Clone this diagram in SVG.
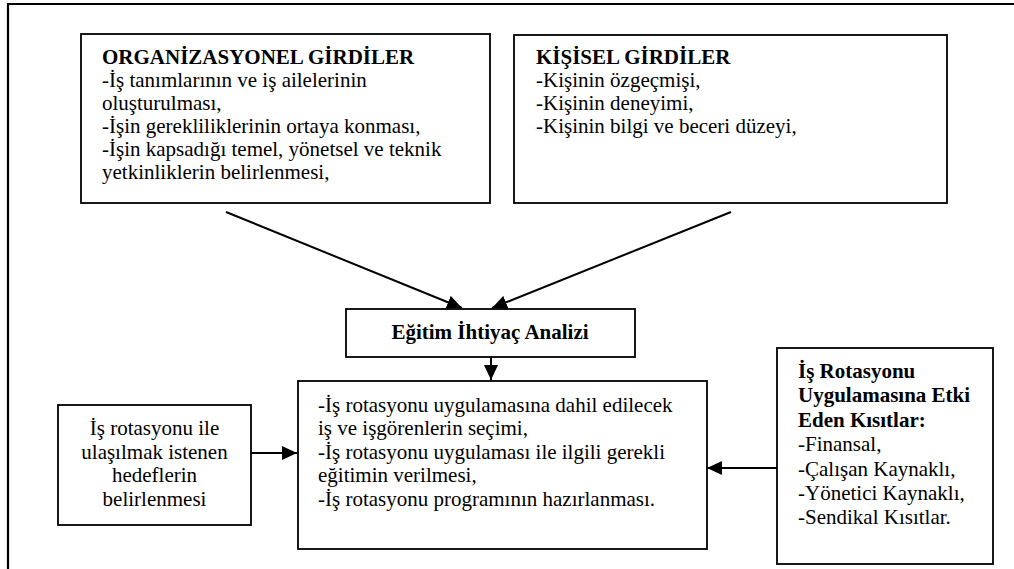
<svg xmlns="http://www.w3.org/2000/svg" width="1014" height="569" viewBox="0 0 1014 569">
  <style>
    .box { fill: #ffffff; stroke: #000000; stroke-width: 1.8; }
    .frame { fill: none; stroke: #000000; stroke-width: 2.2; }
    .edge { fill: none; stroke: #000000; stroke-width: 2; }
    text { font-family: "Liberation Serif", "Times New Roman", serif; font-size: 21px; fill: #000000; }
    .b { font-weight: bold; }
    .c { text-anchor: middle; }
  </style>
  <defs>
    <marker id="arrow" viewBox="0 0 15 14" refX="15" refY="7" markerWidth="15" markerHeight="14" markerUnits="userSpaceOnUse" orient="auto">
      <path d="M0,0 L15,7 L0,14 Z" fill="#000000"/>
    </marker>
  </defs>
  <rect width="1014" height="569" fill="#ffffff"/>

  <!-- outer frame: top and left edges only -->
  <path class="frame" d="M8,569 L8,4 L1014,4"/>

  <g id="connectors">
    <line class="edge" x1="226" y1="212" x2="462" y2="308" marker-end="url(#arrow)"/>
    <line class="edge" x1="731" y1="212" x2="492" y2="308" marker-end="url(#arrow)"/>
    <line class="edge" x1="491" y1="357" x2="491" y2="380" marker-end="url(#arrow)"/>
    <line class="edge" x1="251" y1="453" x2="297" y2="453" marker-end="url(#arrow)"/>
    <line class="edge" x1="777" y1="468" x2="707" y2="468" marker-end="url(#arrow)"/>
  </g>

  <g id="org-inputs">
    <rect class="box" x="81" y="34" width="409" height="169"/>
    <text x="102" y="64" class="b">ORGANİZASYONEL GİRDİLER</text>
    <text x="102" y="87">-İş tanımlarının ve iş ailelerinin</text>
    <text x="102" y="110">oluşturulması,</text>
    <text x="102" y="133">-İşin gerekliliklerinin ortaya konması,</text>
    <text x="102" y="156">-İşin kapsadığı temel, yönetsel ve teknik</text>
    <text x="102" y="179">yetkinliklerin belirlenmesi,</text>
  </g>

  <g id="personal-inputs">
    <rect class="box" x="514" y="35" width="433" height="168"/>
    <text x="536" y="64" class="b">KİŞİSEL GİRDİLER</text>
    <text x="536" y="87">-Kişinin özgeçmişi,</text>
    <text x="536" y="110">-Kişinin deneyimi,</text>
    <text x="536" y="133">-Kişinin bilgi ve beceri düzeyi,</text>
  </g>

  <g id="needs-analysis">
    <rect class="box" x="346" y="309" width="289" height="48"/>
    <text x="490" y="339" class="b c">Eğitim İhtiyaç Analizi</text>
  </g>

  <g id="goals">
    <rect class="box" x="58" y="405" width="193" height="120"/>
    <text x="154.5" y="435" class="c">İş rotasyonu ile</text>
    <text x="154.5" y="459" class="c">ulaşılmak istenen</text>
    <text x="154.5" y="482" class="c">hedeflerin</text>
    <text x="154.5" y="506" class="c">belirlenmesi</text>
  </g>

  <g id="implementation">
    <rect class="box" x="298" y="381" width="409" height="168"/>
    <text x="318" y="412">-İş rotasyonu uygulamasına dahil edilecek</text>
    <text x="318" y="435">iş ve işgörenlerin seçimi,</text>
    <text x="318" y="459">-İş rotasyonu uygulaması ile ilgili gerekli</text>
    <text x="318" y="482">eğitimin verilmesi,</text>
    <text x="318" y="506">-İş rotasyonu programının hazırlanması.</text>
  </g>

  <g id="constraints">
    <rect class="box" x="777" y="348" width="216" height="216"/>
    <text x="798" y="378" class="b">İş Rotasyonu</text>
    <text x="798" y="402" class="b">Uygulamasına Etki</text>
    <text x="798" y="427" class="b">Eden Kısıtlar:</text>
    <text x="798" y="451">-Finansal,</text>
    <text x="798" y="476">-Çalışan Kaynaklı,</text>
    <text x="798" y="500">-Yönetici Kaynaklı,</text>
    <text x="798" y="524">-Sendikal Kısıtlar.</text>
  </g>
</svg>
